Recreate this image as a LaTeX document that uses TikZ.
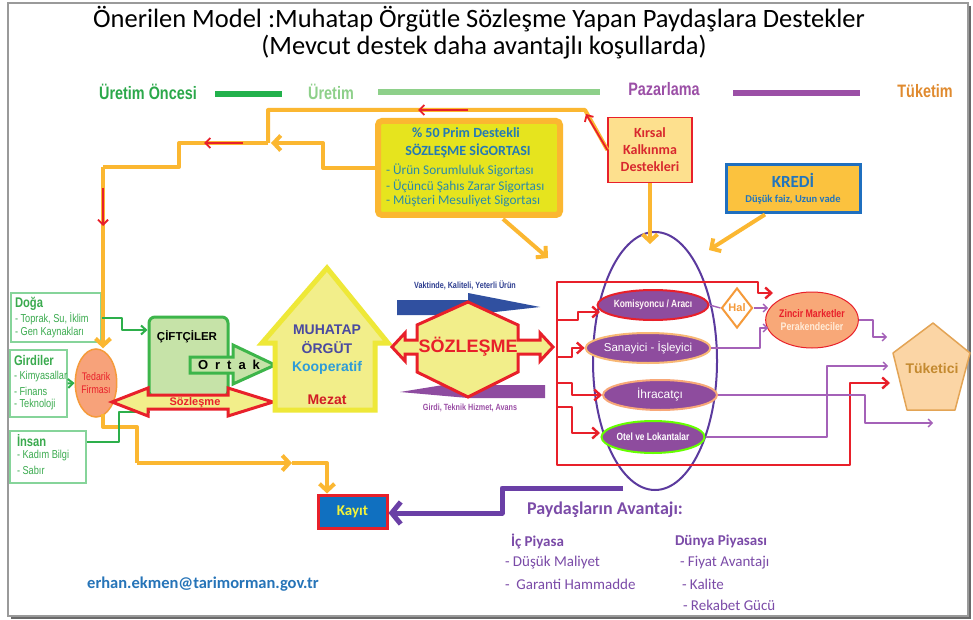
\documentclass[tikz,border=0pt]{standalone}
\usepackage{fontspec}
\setmainfont{Carlito}
\newfontfamily\arialf{Liberation Sans}
\newfontfamily\narrowf[FakeStretch=0.8]{Liberation Sans}
\usetikzlibrary{arrows.meta,shapes.geometric,calc}
\newcommand\fsz[1]{\fontsize{#1}{#1}\selectfont}

\definecolor{cOr}{HTML}{FBB731}
\definecolor{cRed}{HTML}{E8202A}
\definecolor{cPur}{HTML}{A461B8}
\definecolor{cPurD}{HTML}{5B3A9E}
\definecolor{cKay}{HTML}{6A3FA6}
\definecolor{cEll}{HTML}{8E4C9E}
\definecolor{cGrn}{HTML}{2DAF4B}
\definecolor{cGrnBox}{HTML}{86D49A}
\definecolor{cGrnT}{HTML}{3AAA4E}
\definecolor{cYel}{HTML}{F2EE8A}
\definecolor{cHouse}{HTML}{EEE838}
\definecolor{cSig}{HTML}{E6E41E}
\definecolor{cSigT}{HTML}{2479B5}
\definecolor{cSigL}{HTML}{2A8AAA}
\definecolor{cPh1}{HTML}{2BA84A}
\definecolor{cBar1}{HTML}{22B14C}
\definecolor{cPh2}{HTML}{8ED08A}
\definecolor{cPh3}{HTML}{9B4FA6}
\definecolor{cPh4}{HTML}{E08A2E}
\definecolor{cKir}{HTML}{FDE08E}
\definecolor{cKirT}{HTML}{D8282E}
\definecolor{cKre}{HTML}{FBC23E}
\definecolor{cKreB}{HTML}{1F6FBF}
\definecolor{cKreT}{HTML}{2275BD}
\definecolor{cSalm}{HTML}{F7A27A}
\definecolor{cZin}{HTML}{F8A878}
\definecolor{cTuk}{HTML}{FBD5A5}
\definecolor{cTukB}{HTML}{E3A455}
\definecolor{cTukT}{HTML}{C48A30}
\definecolor{cCift}{HTML}{C6E3A8}
\definecolor{cCiftB}{HTML}{3DB54A}
\definecolor{cBlue}{HTML}{3050A0}
\definecolor{cBlueT}{HTML}{2E3E90}
\definecolor{cPurH}{HTML}{8E4CA0}
\definecolor{cKayF}{HTML}{1070C0}
\definecolor{cKayT}{HTML}{F2F23A}
\definecolor{cMuh}{HTML}{4A4AA0}
\definecolor{cKoop}{HTML}{2E9CD8}
\definecolor{cAdv}{HTML}{7B4BA8}
\definecolor{cMail}{HTML}{2674B8}
\definecolor{cFrame}{HTML}{9A9A9A}
\definecolor{cFrameD}{HTML}{6A6A6A}
\definecolor{cHal}{HTML}{F59A3A}

\begin{document}
\begin{tikzpicture}[x=1pt,y=-1pt,
  txt/.style={inner sep=0pt, outer sep=0pt},
  oline/.style={draw=cOr, line width=4pt, line join=round},
  oarr/.style={oline, -{Straight Barb[length=7pt,width=15pt]}},
  rmark/.style={draw=cRed, line width=1.8pt, -{Straight Barb[length=5pt,width=10pt]}},
  rline/.style={draw=cRed, line width=2.4pt, line join=round},
  rarr/.style={rline, -{Straight Barb[length=6pt,width=11pt]}},
  gline/.style={draw=cGrn, line width=2pt, line join=round},
  garr/.style={gline, -{Straight Barb[length=5pt,width=9pt]}},
  pline/.style={draw=cPur, line width=1.4pt, line join=round},
  parr/.style={pline, -{Straight Barb[length=4pt,width=8pt]}},
  kayarr/.style={draw=cKay, line width=5pt, line join=round, -{Straight Barb[length=9pt,width=22pt]}},
  srcbox/.style={draw=cGrnBox, line width=1.3pt, fill=white, inner sep=0pt},
  srchead/.style={txt, anchor=west, text=cGrnT, font=\narrowf\bfseries\fsz{14}},
  srcitem/.style={txt, anchor=west, text=cGrnT, font=\narrowf\fsz{11.5}},
  buyer/.style={ellipse, fill=cEll, line width=2pt, inner sep=0pt, text=white},
  phase/.style={txt, font=\narrowf\bfseries\fsz{18}},
  adv/.style={txt, anchor=west, text=cAdv, font=\fsz{15}},
  advh/.style={txt, anchor=west, text=cAdv, font=\bfseries\fsz{15}},
]
\useasboundingbox (0,0) rectangle (973,620);
\fill[white] (0,0) rectangle (973,620);

% frame with a soft shadow
\draw[cFrame, line width=1.2pt] (8,3) rectangle (968,616);
\draw[cFrameD, line width=1.6pt] (970,6) -- (970,618) -- (11,618);

% titles
\node[txt, font=\fsz{26.5}] (title) at (479,19) {Önerilen Model :Muhatap Örgütle Sözleşme Yapan Paydaşlara Destekler};
\node[txt, font=\fsz{26.5}] (subtitle) at (484,47) {(Mevcut destek daha avantajlı koşullarda)};

% value chain phases
\node[phase, text=cPh1] (ph1) at (148,92) {Üretim Öncesi};
\draw[cBar1, line width=6pt] (215,94) -- (282,94);
\node[phase, text=cPh2] (ph2) at (331,92) {Üretim};
\draw[cPh2, line width=6pt] (378,92) -- (600,92);
\node[phase, text=cPh3] (ph3) at (664,89) {Pazarlama};
\draw[cPh3, line width=6pt] (733,93) -- (860,93);
\node[phase, text=cPh4] (ph4) at (925,91) {Tüketim};

% marketing actors
\node[ellipse, draw=cPurD, line width=2pt, minimum width=124pt, minimum height=258pt, inner sep=0pt] (pazar) at (655,361) {};
\node[buyer, draw=cRed, minimum width=108pt, minimum height=30pt, font=\narrowf\bfseries\fsz{10.5}, text=white!85!pink] (kom) at (653,305) {Komisyoncu / Aracı};
\node[buyer, draw=cHal!70, minimum width=106pt, minimum height=30pt, font=\arialf\fsz{11.5}] (san) at (648,348) {Sanayici - İşleyici};
\node[buyer, draw=cZin, minimum width=114pt, minimum height=30pt, font=\arialf\fsz{12}] (ihr) at (660,395) {İhracatçı};
\node[buyer, draw=green!60!yellow, minimum width=100pt, minimum height=32pt, font=\narrowf\bfseries\fsz{10.5}] (otel) at (653,437) {Otel ve Lokantalar};
\node[diamond, draw=cHal, line width=2pt, fill=white, minimum width=31pt, minimum height=40pt, inner sep=0pt, text=cHal, font=\arialf\bfseries\fsz{11}] (hal) at (737,308) {Hal};
\node[ellipse, draw=cRed, line width=1pt, fill=cZin, minimum width=88pt, minimum height=56pt, inner sep=0pt, align=center, font=\narrowf\bfseries\fsz{11}] (zin) at (812,320) {\textcolor{cRed}{Zincir Marketler}\\[2pt]\textcolor{white!85!orange}{Perakendeciler}};
\filldraw[fill=cTuk, draw=cTukB, line width=1.5pt, line join=round] (933,323) -- (970,353) -- (955,410) -- (907,410) -- (893,353) -- cycle;
\node[txt, text=cTukT, font=\arialf\bfseries\fsz{14}] (tuk) at (932,368) {Tüketici};

% support boxes
\node[draw=cOr, line width=6pt, fill=cSig, rounded corners=4pt, minimum width=182pt, minimum height=94pt, inner sep=0pt] (sig) at (469,168) {};
\node[txt, text=cSigT, font=\bfseries\fsz{14}] (sigh1) at (466,133) {\% 50 Prim Destekli};
\node[txt, text=cSigT, font=\bfseries\fsz{14}] (sigh2) at (468,151) {SÖZLEŞME SİGORTASI};
\node[txt, anchor=west, text=cSigL, font=\fsz{13.3}] (sigi1) at (386,170) {- Ürün Sorumluluk Sigortası};
\node[txt, anchor=west, text=cSigL, font=\fsz{13.3}] (sigi2) at (386,186) {- Üçüncü Şahıs Zarar Sigortası};
\node[txt, anchor=west, text=cSigL, font=\fsz{13.3}] (sigi3) at (386,201) {- Müşteri Mesuliyet Sigortası};

\node[draw=cRed, line width=1.2pt, fill=cKir, minimum width=84pt, minimum height=65pt, inner sep=0pt, align=center, text=cKirT, font=\bfseries\fsz{14}] (kir) at (650,150) {Kırsal\\[3pt]Kalkınma\\[3pt]Destekleri};

\node[draw=cKreB, line width=3pt, fill=cKre, minimum width=134pt, minimum height=48pt, inner sep=0pt] (kredi) at (793,189) {};
\node[txt, text=cKreT, font=\bfseries\fsz{17}] (kredih) at (793,180) {KREDİ};
\node[txt, text=cKreT, font=\bfseries\fsz{10.5}] (kredit) at (793,200) {Düşük faiz, Uzun vade};

\node[draw=cRed, line width=3pt, fill=cKayF, minimum width=69pt, minimum height=33pt, inner sep=0pt, text=cKayT, font=\bfseries\fsz{15}] (kay) at (352.5,511.5) {Kayıt};

% production side
\node[ellipse, draw=cHal, line width=1.5pt, fill=cSalm, minimum width=38pt, minimum height=68pt, inner sep=0pt, align=center, text=cRed, font=\narrowf\fsz{11}] (ted) at (96,383) {Tedarik\\[2pt]Firması};

\node[srcbox, minimum width=90pt, minimum height=49pt] (doga) at (56,317.5) {};
\node[srchead] (doga1) at (15,304) {Doğa};
\node[srcitem] (doga2) at (15,319) {- Toprak, Su, İklim};
\node[srcitem] (doga3) at (15,333) {- Gen Kaynakları};

\node[srcbox, minimum width=57pt, minimum height=67pt] (gird) at (38.5,383.5) {};
\node[srchead] (gird1) at (14,360) {Girdiler};
\node[srcitem] (gird2) at (14,377) {- Kimyasallar};
\node[srcitem] (gird3) at (14,391) {- Finans};
\node[srcitem] (gird4) at (14,405) {- Teknoloji};

\node[srcbox, minimum width=76pt, minimum height=52pt] (insan) at (48,457) {};
\node[srchead] (insan1) at (17,441) {İnsan};
\node[srcitem] (insan2) at (17,456) {- Kadım Bilgi};
\node[srcitem] (insan3) at (17,470) {- Sabır};

\node[draw=cCiftB, line width=3pt, fill=cCift, rounded corners=6pt, minimum width=79pt, minimum height=80pt, inner sep=0pt] (cift) at (188.5,357) {};
\node[txt, font=\arialf\bfseries\fsz{11.5}] (cifth) at (187,337) {ÇİFTÇİLER};

% feedback loop of the support flows
\coordinate (t1) at (585,110);
\coordinate (t2) at (268,110);
\coordinate (jn) at (268,143);
\coordinate (jnb) at (271,143);
\coordinate (s1) at (323,168);
\coordinate (s2) at (323,143);
\coordinate (b1) at (179,143);
\coordinate (b2) at (179,167);
\coordinate (b3) at (103,167);
\draw[oline] (kir.west) -- (t1) -- (t2) -- (jn);
\draw[oarr] (sig.west) -- (s1) -- (s2) -- (jnb);
\draw[oline] (jn) -- (b1) -- (b2) -- (b3);
\draw[oarr] (b3) -- (b3 |- ted.north);

\coordinate (m1a) at (468,110); \coordinate (m1b) at (418,110);
\coordinate (m2a) at (243,143); \coordinate (m2b) at (204,143);
\coordinate (m3a) at (103,188); \coordinate (m3b) at (103,226);
\coordinate (m4b) at (586,114);
\draw[rmark] (m1a) -- (m1b);
\draw[rmark] (m2a) -- (m2b);
\draw[rmark] (m3a) -- (m3b);
\draw[rmark] (kir.west) -- (m4b);

% supplier to registry
\coordinate (u0) at (103,414);
\coordinate (u1) at (103,427);
\coordinate (u2) at (137,427);
\coordinate (u3) at (137,463);
\coordinate (u4) at (292,463);
\coordinate (u5) at (327,463);
\draw[oline] (u0) -- (u1) -- (u2) -- (u3);
\draw[oarr] (u3) -- (u4);
\draw[oarr] (u4) -- (u5) -- (u5 |- kay.north);

% supports towards the marketing actors
\coordinate (sg) at (503,219);
\coordinate (sge) at (548,258);
\coordinate (kre) at (709,250);
\draw[oarr] (sg) -- (sge);
\draw[oarr] (kir.south) -- (kir.south |- 0,244);
\draw[oarr] ($(kredi.south)+(-28,0)$) -- (kre);

% production inputs
\draw[garr] (doga.east) -- (122,317.5) -- (122,330) -- (cift.west |- 0,330);
\draw[garr] (gird.east) -- (ted.west);
\draw[gline] (insan.east |- 0,442) -- (119,442) -- (119,412) -- (150,412);

% contract links to the buyers
\coordinate (rj) at (557,347);
\draw[rarr] (rj) -- (557,282) -- (758,282) -- (758,293) -- (773,293);
\draw[rarr] (rj) -- (557,465) -- (850,465) -- (850,383) -- (890,383);
\draw[rarr] (557,320) -- (578,320) -- (578,312) -- (600,312);
\draw[rarr] (557,357) -- (572,357) -- (572,348) -- (san.west);
\draw[rarr] (557,383) -- (572,383) -- (572,395) -- (ihr.west);
\draw[rarr] (557,407) -- (572,407) -- (572,433) -- (600,433);

% product flows to the consumer
\draw[pline] (kom.east) -- (hal.west);
\draw[parr] (hal.east) -- (768,308);
\draw[parr] (san.east) -- (760,348) -- (760,328) -- (768,328);
\draw[parr] (zin.east) -- (873,320) -- (873,337) -- (887,337);
\draw[parr] (ihr.east) -- (865,395) -- (865,423) -- (933,423);
\draw[parr] (otel.east) -- (827,437) -- (827,366) -- (888,366);

% registration feedback
\draw[kayarr] (623,488) -- (502,488) -- (502,513) -- (kay.east |- 0,513);

% partnership and contract arrows of the farmers
\filldraw[fill=cCift, draw=cCiftB, line width=3pt, line join=miter] (190,357) -- (233,357) -- (233,345) -- (275,365) -- (233,384) -- (233,373) -- (190,373) -- cycle;
\node[txt, font=\arialf\bfseries\fsz{13}] (ortak) at (229,365) {O\hspace{7pt}r\hspace{7pt}t\hspace{7pt}a\hspace{7pt}k};
\filldraw[fill=cYel, draw=cRed, line width=3pt, line join=miter] (112,402) -- (148,388) -- (148,395) -- (228,395) -- (228,388) -- (273,402) -- (228,416) -- (228,409) -- (148,409) -- (148,416) -- cycle;
\node[txt, text=cRed, font=\arialf\bfseries\fsz{11}] (sozk) at (195,403) {Sözleşme};

% counterpart organisation
\filldraw[fill=cYel, draw=cHouse, line width=5pt, line join=miter] (327,268) -- (388,343) -- (375,343) -- (375,410) -- (275,410) -- (275,343) -- (262,343) -- cycle;
\node[txt, text=cMuh, font=\arialf\bfseries\fsz{14}] (muh1) at (327,330) {MUHATAP};
\node[txt, text=cMuh, font=\arialf\bfseries\fsz{14}] (muh2) at (327,348) {ÖRGÜT};
\node[txt, text=cKoop, font=\arialf\bfseries\fsz{14}] (koop) at (327,368) {Kooperatif};
\node[txt, text=cRed!90!black, font=\arialf\bfseries\fsz{14}] (mezat) at (327,400) {Mezat};

% central contract
\fill[cBlue] (397,300) -- (468,300) -- (468,293) -- (540,307) -- (468,315) -- (397,315) -- cycle;
\fill[cPurH] (545,385) -- (468,385) -- (468,381) -- (400,392) -- (468,398) -- (545,398) -- cycle;
\node[txt, text=cBlueT, font=\narrowf\bfseries\fsz{9}] (vak) at (465,285) {Vaktinde, Kaliteli, Yeterli Ürün};
\node[txt, text=cPh3, font=\narrowf\bfseries\fsz{9}] (girdi) at (470,408) {Girdi, Teknik Hizmet, Avans};
\filldraw[fill=cYel, draw=cRed, line width=3pt, line join=miter] (392,347) -- (405,333) -- (405,340) -- (417,340) -- (417,325) -- (468,302) -- (518,325) -- (518,340) -- (540,340) -- (540,333) -- (553,347) -- (540,361) -- (540,354) -- (518,354) -- (518,372) -- (468,397) -- (417,372) -- (417,354) -- (405,354) -- (405,361) -- cycle;
\node[txt, text=cRed, font=\arialf\bfseries\fsz{18}] (soz) at (468,347) {SÖZLEŞME};

% stakeholder advantages
\node[txt, text=cAdv, font=\bfseries\fsz{18}] (advh) at (605,510) {Paydaşların Avantajı:};
\node[advh] (ic) at (511,541) {İç Piyasa};
\node[adv] (ic1) at (505,563) {- Düşük Maliyet};
\node[adv] (ic2) at (505,584) {-\ \ Garanti Hammadde};
\node[advh] (dun) at (675,541) {Dünya Piyasası};
\node[adv] (dun1) at (680,563) {- Fiyat Avantajı};
\node[adv] (dun2) at (682,584) {- Kalite};
\node[adv] (dun3) at (683,605) {- Rekabet Gücü};

\node[txt, text=cMail, font=\bfseries\fsz{16.5}] (mail) at (203,584) {erhan.ekmen@tarimorman.gov.tr};
\end{tikzpicture}
\end{document}
